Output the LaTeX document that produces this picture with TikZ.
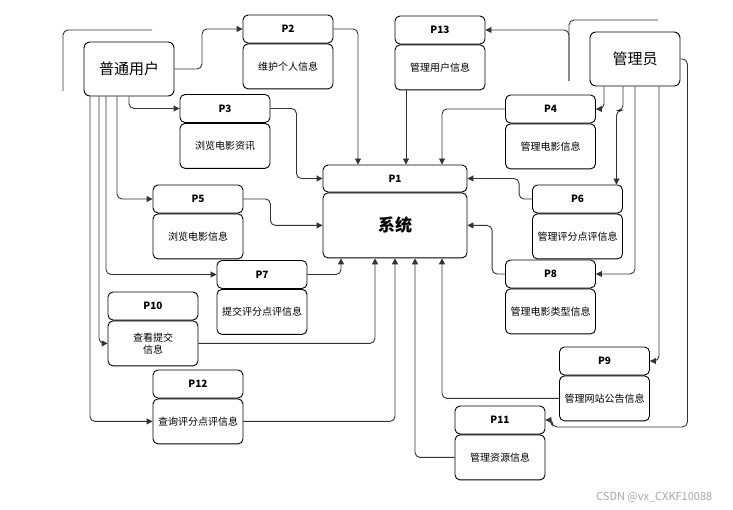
\documentclass[tikz,border=0pt]{standalone}
\usepackage{fontspec}
\setmainfont{Noto Sans CJK SC}
\usepackage{tikz}
\usetikzlibrary{arrows.meta}
\usetikzlibrary{positioning}
\tikzstyle{phead} = [rectangle, draw, rounded corners=5pt, 
    minimum width=90pt, minimum height=28pt, inner sep=0pt, font=\bfseries\fontsize{10}{12}\selectfont]
\tikzstyle{pbody} = [rectangle, draw, rounded corners=5pt, 
    minimum width=90pt, minimum height=45pt, inner sep=0pt, align=center, font=\fontsize{10}{12}\selectfont]
\tikzstyle{entity} = [rectangle, draw, rounded corners=6pt, 
    minimum width=90pt, minimum height=54pt, font=\fontsize{15}{18}\selectfont]
\tikzstyle{line} = [draw=black!80, -{Triangle[length=6pt,width=6pt]}, rounded corners=5pt]

\begin{document}
\begin{tikzpicture}[x=1pt,y=-1pt,line width=0.9pt]
    \useasboundingbox (0,0) rectangle (733,510);
    % Place nodes
    \node [entity] (user) at (129,69) {普通用户};
    \node [entity] (admin) at (635,59) {管理员};
    \node [phead, minimum width=144pt, minimum height=27pt] (p1) at (395,178.5) {P1};
    \node [pbody, minimum width=144pt, minimum height=65pt, below=0pt of p1,
        font=\bfseries\fontsize{17}{20}\selectfont] (p1b) {系统};
    \node [phead] (p2) at (288,29) {P2};
    \node [pbody, below=0pt of p2] (p2b) {维护个人信息};
    \node [phead] (p13) at (440,30) {P13};
    \node [pbody, below=0pt of p13] (p13b) {管理用户信息};
    \node [phead] (p3) at (225,108.5) {P3};
    \node [pbody, below=0pt of p3] (p3b) {浏览电影资讯};
    \node [phead] (p4) at (550.5,109) {P4};
    \node [pbody, below=0pt of p4] (p4b) {管理电影信息};
    \node [phead] (p5) at (198,199) {P5};
    \node [pbody, below=0pt of p5] (p5b) {浏览电影信息};
    \node [phead] (p6) at (577.5,199) {P6};
    \node [pbody, below=0pt of p6] (p6b) {管理评分点评信息};
    \node [phead] (p7) at (262,274.5) {P7};
    \node [pbody, below=0pt of p7] (p7b) {提交评分点评信息};
    \node [phead] (p8) at (550.5,274) {P8};
    \node [pbody, below=0pt of p8] (p8b) {管理电影类型信息};
    \node [phead] (p10) at (153,306) {P10};
    \node [pbody, below=0pt of p10] (p10b) {查看提交\\信息};
    \node [phead] (p9) at (604.5,361) {P9};
    \node [pbody, below=0pt of p9] (p9b) {管理网站公告信息};
    \node [phead] (p12) at (198,384) {P12};
    \node [pbody, below=0pt of p12] (p12b) {查询评分点评信息};
    \node [phead] (p11) at (500,420) {P11};
    \node [pbody, below=0pt of p11] (p11b) {管理资源信息};
    \node [text=black!35, font=\fontsize{11}{13}\selectfont, anchor=east] (mark) at (716,497) {CSDN @vx\_CXKF10088};
    % Entry and exit points
    \coordinate (in2) at ([xshift=-37pt]p1.north);
    \coordinate (in13) at ([xshift=11pt]p1.north);
    \coordinate (in4) at ([xshift=47pt]p1.north);
    \coordinate (out7) at ([xshift=-54pt]p1b.south);
    \coordinate (out10) at ([xshift=-20pt]p1b.south);
    \coordinate (out11) at ([xshift=20pt]p1b.south);
    \coordinate (out9) at ([xshift=47pt]p1b.south);
    \coordinate (u12) at ([xshift=-39pt]user.south);
    \coordinate (u10) at ([xshift=-30pt]user.south);
    \coordinate (u7) at ([xshift=-23pt]user.south);
    \coordinate (u5) at ([xshift=-12pt]user.south);
    \coordinate (a4) at ([xshift=-31pt]admin.south);
    \coordinate (a6) at ([xshift=-12pt]admin.south);
    \coordinate (a9) at ([xshift=24pt]admin.south);
    \coordinate (in6) at ([xshift=39pt]p6.north);
    \coordinate (ad0) at (569,81);
    % Shadow lines
    \draw [black!80, rounded corners=5pt] (63,91) |- (152,30);
    \draw [black!80, rounded corners=5pt] (ad0) |- (658,20);
    % Draw edges
    \path [line] (user.east) -- (202,69) |- (p2.west);
    \path [line] (p2.east) -| (in2);
    \path [line] (ad0) |- (p13.east);
    \path [line] (p13b.south -| in13) -- (in13);
    \path [line] (a4) |- (p4.east);
    \path [line] (p4.west) -| (in4);
    \path [line] (user.south) |- (p3.west);
    \path [line] (p3.east) -- ++(26,0) |- (p1.west);
    \path [line] (u5) |- (p5.west);
    \path [line] (p5.east) -- ++(27,0) |- (p1b.west);
    \path [line] (a6) -- ++(0,24) -| (in6);
    \path [line] (p6.west) -- ++(-13,0) |- (p1.east);
    \path [line] (admin.south) |- (p8.east);
    \path [line] (p8.west) -- ++(-13,0) |- (p1b.east);
    \path [line] (u7) |- (p7.west);
    \path [line] (p7.east) -| (out7);
    \path [line] (u10) |- (p10b.west);
    \path [line] (p10b.east) -| (out10);
    \path [line] (u12) |- (p12b.west);
    \path [line] (p12b.east) -| (p1b.south);
    \path [line] (a9) |- (p9.east);
    \path [line] (p9b.west) -| (out9);
    \path [line] (admin.east) -- ++(7,0) |- (552,427) |- (p11.east);
    \path [line] (p11b.west) -| (out11);
\end{tikzpicture}
\end{document}
